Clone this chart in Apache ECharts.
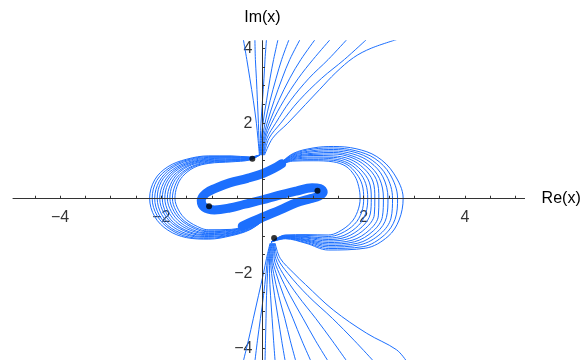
<!DOCTYPE html>
<html>
<head>
<meta charset="utf-8">
<script src="https://cdn.jsdelivr.net/npm/echarts/dist/echarts.min.js"></script>
<style>
  html, body { margin: 0; padding: 0; background: #ffffff; }
  #chart { width: 584px; height: 360px; }
</style>
</head>
<body>
<div id="chart"></div>
<script>
// Trajectories in the complex x-plane (Re(x) horizontal, Im(x) vertical).

// Turning points (black dots)
const turningPoints = [[-0.2, 1.05], [-1.055, -0.21], [1.087, 0.2], [0.23, -1.06]];

// Upper fan: curves leaving the upper turning point towards +i infinity
const topFan = [
  [[-0.06,1.15],[-0.09,1.6],[-0.12,2.0],[-0.18,2.6],[-0.25,3.2],[-0.31,3.7],[-0.38,4.25]],
  [[-0.05,1.15],[-0.07,1.6],[-0.08,2.0],[-0.10,2.6],[-0.12,3.2],[-0.14,3.7],[-0.15,4.25]],
  [[-0.04,1.15],[-0.04,1.6],[-0.03,2.0],[0.00,2.6],[0.03,3.2],[0.05,3.7],[0.08,4.25]],
  [[-0.03,1.15],[-0.02,1.6],[0.01,2.0],[0.08,2.6],[0.15,3.2],[0.22,3.7],[0.31,4.25]],
  [[-0.02,1.15],[0.00,1.6],[0.05,2.0],[0.15,2.6],[0.27,3.2],[0.38,3.7],[0.53,4.25]],
  [[-0.01,1.15],[0.02,1.6],[0.09,2.0],[0.23,2.6],[0.39,3.2],[0.54,3.7],[0.75,4.25]],
  [[0.00,1.15],[0.04,1.6],[0.13,2.0],[0.32,2.6],[0.54,3.2],[0.76,3.7],[1.05,4.25]],
  [[0.01,1.15],[0.06,1.6],[0.18,2.0],[0.42,2.6],[0.71,3.2],[1.00,3.7],[1.35,4.25]],
  [[0.02,1.15],[0.09,1.6],[0.26,2.0],[0.55,2.6],[0.92,3.2],[1.30,3.7],[1.68,4.25]],
  [[0.03,1.15],[0.13,1.6],[0.36,2.0],[0.72,2.6],[1.17,3.2],[1.62,3.7],[2.07,4.25]],
  [[0.04,1.15],[0.20,1.6],[0.50,2.0],[0.85,2.5],[1.13,2.9],[1.45,3.35],[1.80,3.75],[2.15,4.0],[2.70,4.25]]
];

// Lower fan: curves leaving the lower turning point towards -i infinity
const bottomFan = [
  [[0.15,-1.2],[0.08,-1.6],[0.02,-2.0],[-0.08,-2.6],[-0.18,-3.2],[-0.28,-3.8],[-0.38,-4.35]],
  [[0.16,-1.2],[0.10,-1.6],[0.07,-2.0],[0.02,-2.6],[-0.04,-3.2],[-0.10,-3.8],[-0.15,-4.35]],
  [[0.17,-1.2],[0.12,-1.6],[0.10,-2.0],[0.08,-2.6],[0.07,-3.2],[0.06,-3.8],[0.05,-4.35]],
  [[0.18,-1.2],[0.14,-1.6],[0.14,-2.0],[0.16,-2.6],[0.19,-3.2],[0.22,-3.8],[0.25,-4.35]],
  [[0.19,-1.2],[0.16,-1.6],[0.18,-2.0],[0.24,-2.6],[0.31,-3.2],[0.38,-3.8],[0.45,-4.35]],
  [[0.20,-1.2],[0.18,-1.6],[0.22,-2.0],[0.32,-2.6],[0.44,-3.2],[0.55,-3.8],[0.66,-4.35]],
  [[0.21,-1.2],[0.20,-1.6],[0.27,-2.0],[0.42,-2.6],[0.60,-3.2],[0.78,-3.8],[0.96,-4.35]],
  [[0.22,-1.2],[0.23,-1.6],[0.33,-2.0],[0.55,-2.6],[0.80,-3.2],[1.05,-3.8],[1.30,-4.35]],
  [[0.23,-1.2],[0.26,-1.6],[0.40,-2.0],[0.70,-2.6],[1.05,-3.2],[1.38,-3.8],[1.67,-4.35]],
  [[0.24,-1.2],[0.30,-1.6],[0.50,-2.0],[0.90,-2.6],[1.38,-3.2],[1.82,-3.8],[2.20,-4.35]],
  [[0.25,-1.2],[0.35,-1.6],[0.62,-2.0],[0.85,-2.3],[1.40,-2.98],[2.06,-3.6],[2.65,-4.04],[2.85,-4.35]]
];

// Left lobe: stations from the upper turning point, round the left arc, into the lower strand.
// Each station lists x and y for the 11 curves (outer to inner).
const leftLobeX = [
  -0.06,
  -0.25,
  -0.62,
  -1.06,
  [-1.50,-1.49,-1.47,-1.46,-1.44,-1.43,-1.41,-1.40,-1.38,-1.37,-1.35],
  [-1.87,-1.84,-1.81,-1.78,-1.75,-1.73,-1.70,-1.67,-1.64,-1.61,-1.58],
  [-2.13,-2.09,-2.04,-2.00,-1.95,-1.91,-1.87,-1.82,-1.78,-1.73,-1.69],
  [-2.23,-2.18,-2.13,-2.08,-2.03,-1.98,-1.93,-1.88,-1.83,-1.78,-1.73],
  [-2.13,-2.08,-2.04,-1.99,-1.94,-1.90,-1.85,-1.80,-1.75,-1.71,-1.66],
  [-1.87,-1.83,-1.80,-1.76,-1.72,-1.69,-1.65,-1.61,-1.57,-1.54,-1.50],
  [-1.50,-1.47,-1.44,-1.41,-1.38,-1.36,-1.33,-1.30,-1.27,-1.24,-1.21],
  -1.06,
  -0.62,
  -0.25,
  0.05
];
const leftLobeY = [
  1.15,
  [1.10,1.09,1.09,1.08,1.07,1.06,1.05,1.05,1.04,1.03,1.02],
  [1.13,1.11,1.10,1.08,1.07,1.05,1.03,1.02,1.00,0.99,0.97],
  [1.13,1.11,1.09,1.07,1.05,1.03,1.01,0.99,0.97,0.95,0.93],
  [1.04,1.02,1.00,0.97,0.95,0.93,0.91,0.89,0.86,0.84,0.82],
  [0.84,0.81,0.79,0.76,0.74,0.71,0.68,0.66,0.63,0.61,0.58],
  [0.49,0.47,0.45,0.44,0.42,0.40,0.38,0.36,0.35,0.33,0.31],
  0,
  [-0.49,-0.47,-0.45,-0.44,-0.42,-0.40,-0.38,-0.36,-0.35,-0.33,-0.31],
  [-0.85,-0.82,-0.80,-0.77,-0.74,-0.72,-0.69,-0.66,-0.63,-0.61,-0.58],
  [-1.05,-1.03,-1.00,-0.98,-0.95,-0.93,-0.90,-0.88,-0.85,-0.83,-0.80],
  [-1.09,-1.07,-1.04,-1.02,-0.99,-0.97,-0.94,-0.92,-0.89,-0.87,-0.84],
  [-1.00,-0.98,-0.97,-0.95,-0.93,-0.92,-0.90,-0.88,-0.86,-0.85,-0.83],
  [-0.84,-0.83,-0.81,-0.80,-0.78,-0.77,-0.76,-0.74,-0.73,-0.71,-0.70],
  -0.56
];

// Right lobe: stations from the upper strand, round the right arc, to the lower turning point.
const rightLobeX = [
  0.3,
  0.6,
  1.0,
  1.4,
  [1.85,1.83,1.81,1.79,1.77,1.75,1.73,1.71,1.69,1.67,1.65],
  [2.26,2.22,2.17,2.13,2.08,2.04,2.00,1.95,1.91,1.86,1.82],
  [2.59,2.52,2.45,2.38,2.31,2.25,2.18,2.11,2.04,1.97,1.90],
  [2.78,2.67,2.57,2.48,2.39,2.30,2.22,2.15,2.08,2.00,1.93],
  [2.70,2.62,2.54,2.45,2.37,2.29,2.21,2.13,2.04,1.96,1.88],
  [2.48,2.41,2.33,2.26,2.19,2.12,2.04,1.97,1.90,1.82,1.75],
  [2.04,1.99,1.93,1.88,1.82,1.77,1.72,1.66,1.61,1.55,1.50],
  1.3,
  0.86,
  0.45,
  0.17
];
const rightLobeY = [
  0.86,
  [1.19,1.17,1.15,1.13,1.11,1.09,1.07,1.05,1.03,1.01,0.99],
  [1.34,1.31,1.27,1.24,1.20,1.17,1.14,1.10,1.07,1.03,1.00],
  [1.38,1.34,1.30,1.26,1.22,1.18,1.13,1.09,1.05,1.01,0.97],
  [1.32,1.27,1.23,1.18,1.13,1.09,1.04,0.99,0.94,0.90,0.85],
  [1.11,1.06,1.01,0.96,0.91,0.86,0.80,0.75,0.70,0.65,0.60],
  [0.67,0.64,0.60,0.57,0.53,0.50,0.46,0.43,0.39,0.36,0.32],
  0,
  [-0.58,-0.56,-0.53,-0.51,-0.49,-0.47,-0.44,-0.42,-0.40,-0.37,-0.35],
  [-1.02,-0.98,-0.95,-0.91,-0.87,-0.84,-0.80,-0.76,-0.72,-0.69,-0.65],
  [-1.33,-1.29,-1.24,-1.20,-1.16,-1.12,-1.07,-1.03,-0.99,-0.94,-0.90],
  [-1.38,-1.34,-1.30,-1.26,-1.22,-1.18,-1.14,-1.10,-1.06,-1.02,-0.98],
  [-1.20,-1.18,-1.15,-1.13,-1.11,-1.09,-1.06,-1.04,-1.02,-0.99,-0.97],
  [-1.08,-1.07,-1.06,-1.05,-1.04,-1.03,-1.02,-1.01,-1.00,-0.99,-0.98],
  -1.17
];

// Dense S-shaped bundle through the middle (drawn as one thick stroke)
const sBand = [
  [-0.40,-0.74],[0.01,-0.50],[0.35,-0.31],[0.67,-0.12],[0.95,-0.01],[1.12,0.06],[1.20,0.16],
  [1.14,0.26],[0.98,0.28],[0.67,0.19],[0.30,0.07],[0.01,-0.04],[-0.35,-0.16],[-0.65,-0.26],
  [-0.95,-0.31],[-1.15,-0.24],[-1.21,-0.06],[-1.12,0.13],[-0.92,0.27],[-0.65,0.41],
  [-0.30,0.53],[0.01,0.66],[0.22,0.79],[0.38,0.92]
];

// Axis ticks and labels
const xTicks = [-4.5,-4,-3.5,-3,-2.5,-2,-1.5,-1,-0.5,0.5,1,1.5,2,2.5,3,3.5,4,4.5,5];
const xLabels = [-4, -2, 2, 4];
const yTicks = [-4,-3.5,-3,-2.5,-2,-1.5,-1,-0.5,0.5,1,1.5,2,2.5,3,3.5,4];
const yLabels = [-4, -2, 2, 4];

const BLUE = '#1c6ffe';
const AXIS = '#333333';
const FONT = 'Liberation Sans, Arial, Helvetica, sans-serif';

const pick = (v, i) => Array.isArray(v) ? v[i] : v;
function lobeCurves(xs, ys) {
  const curves = [];
  for (let i = 0; i < 11; i++) {
    curves.push(xs.map((x, s) => [pick(x, i), pick(ys[s], i)]));
  }
  return curves;
}

function thin(points) {
  return {
    type: 'line', data: points, showSymbol: false, smooth: 0.35, silent: true,
    lineStyle: { color: BLUE, width: 1 }, z: 2
  };
}

const fmt = v => (v < 0 ? '\u2212' + Math.abs(v) : String(v));
const labelText = { color: '#000', fontSize: 16, fontFamily: FONT };

const series = [];
// Tick labels placed at the axis values, next to the axes through the origin
series.push({
  type: 'scatter', data: xLabels.map(v => [v, 0]), symbolSize: 0, silent: true, z: 1,
  label: { show: true, position: 'inside', offset: [0, 19], formatter: p => fmt(p.value[0]), ...labelText }
});
series.push({
  type: 'scatter', data: yLabels.map(v => [0, v]), symbolSize: 0, silent: true, z: 1,
  label: { show: true, position: 'left', distance: 10, formatter: p => fmt(p.value[1]), ...labelText }
});
topFan.forEach(c => series.push(thin(c)));
bottomFan.forEach(c => series.push(thin(c)));
lobeCurves(leftLobeX, leftLobeY).forEach(c => series.push(thin(c)));
lobeCurves(rightLobeX, rightLobeY).forEach(c => series.push(thin(c)));
series.push({
  type: 'line', data: sBand, showSymbol: false, smooth: 0.4, silent: true,
  lineStyle: { color: BLUE, width: 9, cap: 'round', join: 'round' }, z: 3
});
series.push({
  type: 'scatter', data: turningPoints, symbolSize: 6, silent: true,
  itemStyle: { color: '#000000' }, z: 5
});

const chart = echarts.init(document.getElementById('chart'), null, { renderer: 'canvas' });
chart.setOption({
  animation: false,
  backgroundColor: '#ffffff',
  grid: { left: 13, right: 59.4, top: 40.7, bottom: 0, containLabel: false, outerBoundsMode: 'none' },
  xAxis: {
    type: 'value', min: -4.93, max: 5.18, z: 4,
    axisLine: { onZero: true, lineStyle: { color: AXIS, width: 1 } },
    axisTick: { inside: true, length: 2.5, customValues: xTicks, lineStyle: { color: AXIS } },
    axisLabel: { show: false },
    splitLine: { show: false },
    name: 'Re(x)', nameLocation: 'end', nameGap: 17,
    nameTextStyle: { color: '#000', fontSize: 16, fontFamily: FONT, verticalAlign: 'middle' }
  },
  yAxis: {
    type: 'value', min: -4.312, max: 4.2, z: 4,
    axisLine: { onZero: true, lineStyle: { color: AXIS, width: 1 } },
    axisTick: { inside: true, length: 2.5, customValues: yTicks, lineStyle: { color: AXIS } },
    axisLabel: { show: false },
    splitLine: { show: false },
    name: 'Im(x)', nameLocation: 'end', nameGap: 15,
    nameTextStyle: { color: '#000', fontSize: 16, fontFamily: FONT }
  },
  series: series
});
</script>
</body>
</html>
